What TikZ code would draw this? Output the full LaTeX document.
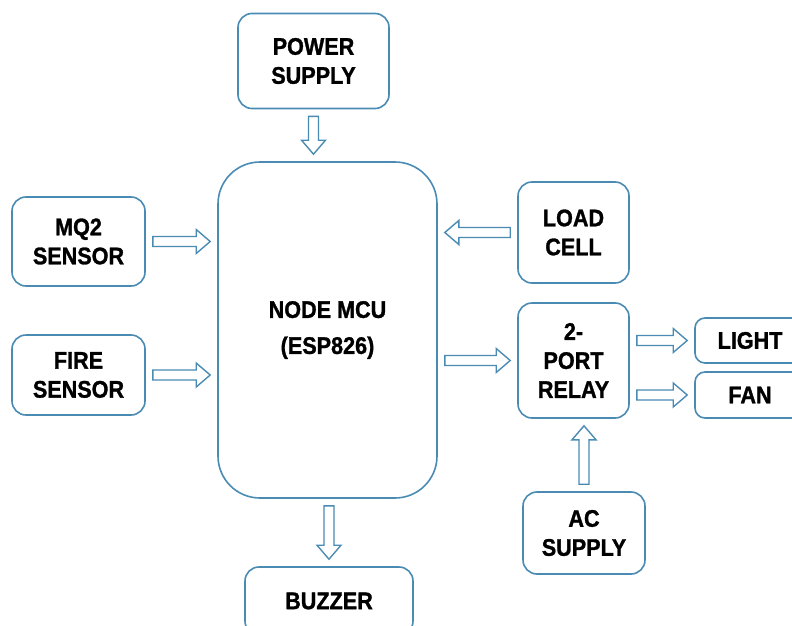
\documentclass[tikz,border=0pt]{standalone}
\usepackage{fontspec}
\newfontfamily\boxfont{Liberation Sans Bold}[FakeStretch=0.9, FakeBold=1.2]
\usetikzlibrary{calc,positioning}
\definecolor{bdBlue}{HTML}{4A8BB3}

% hollow block arrow between two points, with a small gap at both ends
\newcommand{\fatarrow}[2]{%
  \draw[arrowline] let \p1=#1, \p2=#2,
    \n1={atan2(\y2-\y1,\x2-\x1)}, \n2={veclen(\x2-\x1,\y2-\y1)} in
    [shift={(\p1)}, rotate=\n1]
    (7pt,-5pt) -- ({\n2*1pt-21pt},-5pt) -- ({\n2*1pt-21pt},-12pt) -- ({\n2*1pt-7pt},0pt)
    -- ({\n2*1pt-21pt},12pt) -- ({\n2*1pt-21pt},5pt) -- (7pt,5pt) -- cycle;}

\begin{document}
\begin{tikzpicture}[x=1pt, y=-1pt,
  font=\boxfont\fontsize{24}{29}\selectfont,
  blk/.style={draw=bdBlue, line width=1.6pt, rounded corners=14pt, align=center, inner sep=0pt},
  arrowline/.style={draw=bdBlue, line width=1.4pt, fill=white, line join=miter}]
  \useasboundingbox (0,0) rectangle (792,626);
  \clip (0,0) rectangle (792,626);

  \node[blk, minimum width=151pt, minimum height=95pt] (power) at (313.5,61) {POWER\\SUPPLY};
  \node[blk, rounded corners=42pt, minimum width=219pt, minimum height=336pt,
    font=\boxfont\fontsize{24}{36}\selectfont] (mcu) at (327.5,330) {NODE MCU\\(ESP826)};
  \node[blk, minimum width=133pt, minimum height=89pt] (mq2) at (78.5,241.5) {MQ2\\SENSOR};
  \node[blk, minimum width=133pt, minimum height=80pt] (fire) at (78.5,375) {FIRE\\SENSOR};
  \node[blk, minimum width=111pt, minimum height=101pt] (load) at (573.5,232.5) {LOAD\\CELL};
  \node[blk, minimum width=111pt, minimum height=115pt] (relay) at (573.5,360.5) {2-\\PORT\\RELAY};
  \node[blk, rounded corners=10pt, minimum width=110pt, minimum height=45pt] (light) at (750,340.5) {LIGHT};
  \node[blk, rounded corners=10pt, minimum width=110pt, minimum height=46pt] (fan) at (750,395) {FAN};
  \node[blk, minimum width=122pt, minimum height=82pt] (ac) at (584,533) {AC\\SUPPLY};
  \node[blk, minimum width=168pt, minimum height=68pt] (buzzer) at (329,601) {BUZZER};

  \fatarrow{(power.south)}{(power.south |- mcu.north)}
  \fatarrow{(mq2.east)}{(mq2.east -| mcu.west)}
  \fatarrow{(fire.east)}{(fire.east -| mcu.west)}
  \fatarrow{(load.west)}{(load.west -| mcu.east)}
  \fatarrow{(mcu.east |- relay.west)}{(relay.west)}
  \fatarrow{(relay.east |- light.west)}{(light.west)}
  \fatarrow{(relay.east |- fan.west)}{(fan.west)}
  \fatarrow{(ac.north)}{(ac.north |- relay.south)}
  \fatarrow{(buzzer.north |- mcu.south)}{(buzzer.north)}
\end{tikzpicture}
\end{document}
